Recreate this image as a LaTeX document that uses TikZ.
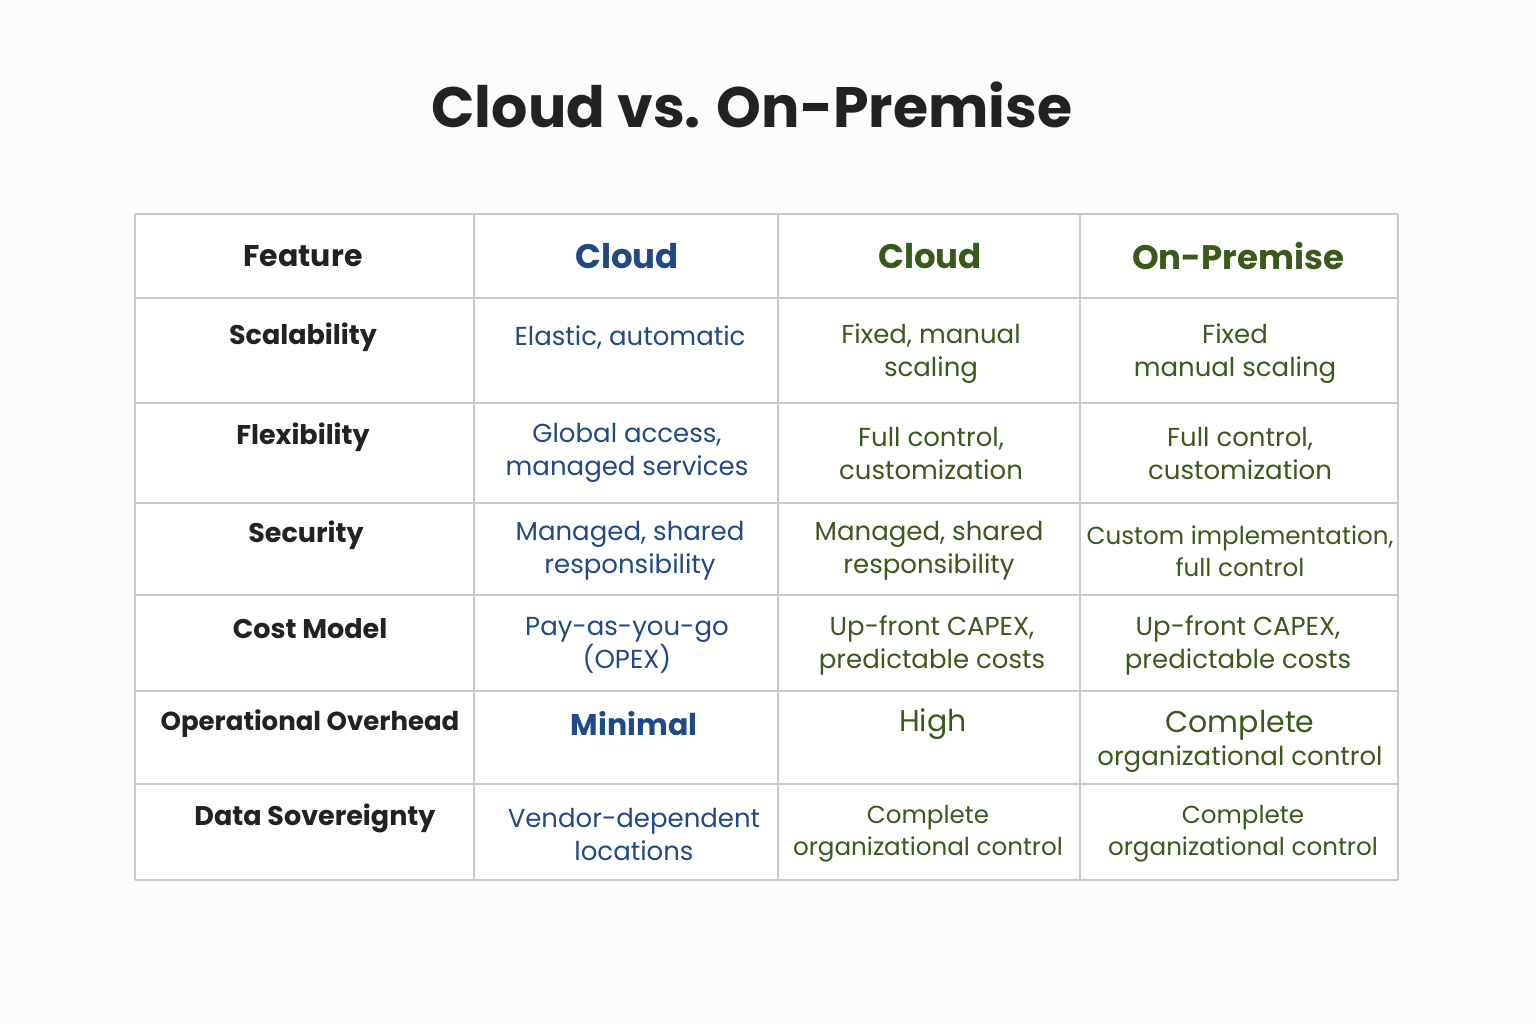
\documentclass[tikz,border=0pt]{standalone}
\usepackage{fontspec}
\setmainfont{Poppins}
\definecolor{bl}{HTML}{1F4A85}
\definecolor{gr}{HTML}{3A5A1C}
\definecolor{tx}{HTML}{222222}
\definecolor{ln}{HTML}{C8C8CE}
\begin{document}
\begin{tikzpicture}[x=0.5pt,y=-0.5pt,
  cell/.style={align=center,font=\fontsize{13}{16.5}\selectfont,inner sep=0pt},
  feat/.style={cell,text=tx,font=\fontsize{13.5}{17}\selectfont\bfseries},
  cb/.style={cell,text=bl},
  cg/.style={cell,text=gr},
  hd/.style={align=center,inner sep=0pt,font=\fontsize{17}{20}\selectfont\bfseries},
  grid/.style={draw=ln,line width=1.2pt}]
\fill[white!98!gray] (0,0) rectangle (1536,1024);
\useasboundingbox (0,0) rectangle (1536,1024);
\node[inner sep=0pt,text=tx,font=\fontsize{28.5}{34}\selectfont\bfseries] (title) at (752,105) {Cloud vs. On-Premise};
\fill[white] (135,214) rectangle (1398,880);
\foreach \x in {135,474,778,1080,1398} \draw[grid] (\x,214) -- (\x,880);
\foreach \y in {214,298,403,503,595,691,784,880} \draw[grid] (135,\y) -- (1398,\y);
\node[hd,text=tx,font=\fontsize{15}{18}\selectfont\bfseries] (h1) at (303,256) {Feature};
\node[hd,text=bl] (h2) at (627,256) {Cloud};
\node[hd,text=gr] (h3) at (930,256) {Cloud};
\node[hd,text=gr] (h4) at (1238,256) {On-Premise};
\node[feat] (f1) at (303,337) {Scalability};
\node[feat] (f2) at (303,437) {Flexibility};
\node[feat] (f3) at (306,535) {Security};
\node[feat] (f4) at (310,629) {Cost Model};
\node[feat,font=\fontsize{13}{17}\selectfont\bfseries] (f5) at (310,724) {Operational Overhead};
\node[feat] (f6) at (315,818) {Data Sovereignty};
\node[cb] (a1) at (630,337) {Elastic, automatic};
\node[cb] (a2) at (627,453) {Global access,\\managed services};
\node[cb] (a3) at (630,551) {Managed, shared\\responsibility};
\node[cb] (a4) at (627,645) {Pay-as-you-go\\(OPEX)};
\node[cb,font=\fontsize{15}{18}\selectfont\bfseries] (a5) at (634,724) {Minimal};
\node[cb] (a6) at (634,834) {Vendor-dependent\\locations};
\node[cg] (b1) at (931,354) {Fixed, manual\\scaling};
\node[cg] (b2) at (931,453) {Full control,\\customization};
\node[cg] (b3) at (929,551) {Managed, shared\\responsibility};
\node[cg] (b4) at (932,645) {Up-front CAPEX,\\predictable costs};
\node[cg,font=\fontsize{15}{18}\selectfont] (b5) at (933,724) {High};
\node[cg,font=\fontsize{12.3}{16}\selectfont] (b6) at (928,834) {Complete\\organizational control};
\node[cg] (c1) at (1235,354) {Fixed\\manual scaling};
\node[cg] (c2) at (1240,453) {Full control,\\customization};
\node[cg,font=\fontsize{12.3}{16}\selectfont] (c3) at (1240,551) {Custom implementation,\\full control};
\node[cg] (c4) at (1238,645) {Up-front CAPEX,\\predictable costs};
\node[cg] (c5) at (1240,741) {{\fontsize{15}{18}\selectfont Complete}\\organizational control};
\node[cg,font=\fontsize{12.3}{16}\selectfont] (c6) at (1243,834) {Complete\\organizational control};
\end{tikzpicture}
\end{document}
